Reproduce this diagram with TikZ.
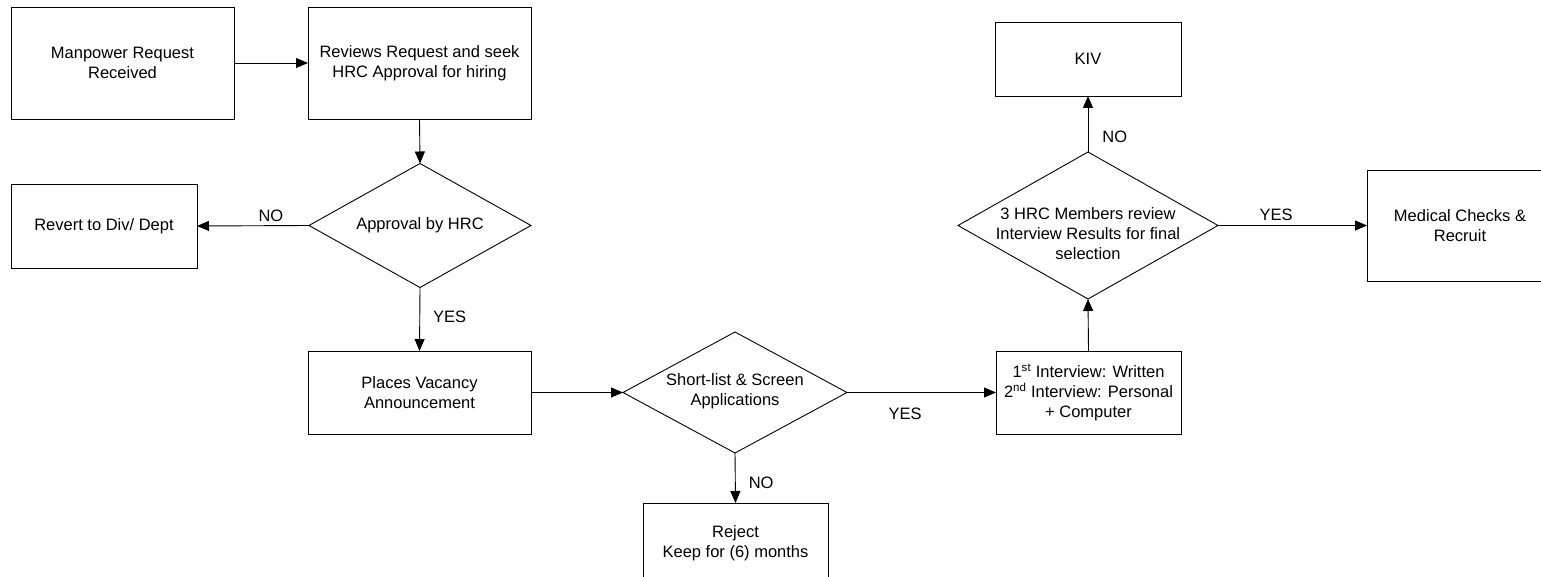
\documentclass[tikz,border=0pt]{standalone}
\usepackage{fontspec}
\setmainfont{Liberation Sans}
\usetikzlibrary{shapes.geometric,arrows.meta}
\begin{document}
\begin{tikzpicture}[x=1pt,y=-1pt,
  font=\fontsize{16.5}{20}\selectfont,
  box/.style={draw, line width=0.9pt, rectangle, align=center, inner sep=0pt, outer sep=0pt},
  dia/.style={draw, line width=0.9pt, diamond, inner sep=0pt, outer sep=0pt},
  arr/.style={line width=0.9pt, -{Triangle[length=12pt,width=10pt]}},
  lbl/.style={inner sep=0pt}]
\useasboundingbox (0,0) rectangle (1541,577);
\clip (0,0) rectangle (1541,577);

\node[box, minimum width=223pt, minimum height=112pt] (b1) at (122.5,63) {Manpower Request\\Received};
\node[box, minimum width=223pt, minimum height=112pt] (b2) at (419.5,63) {Reviews Request and seek\\HRC Approval for hiring};
\node[dia, minimum width=222pt, minimum height=124pt,
  label={[name=d1t, align=center]center:Approval by HRC}] (d1) at (420,225.5) {};
\node[box, minimum width=186pt, minimum height=84pt] (rev) at (104,226) {Revert to Div/ Dept};
\node[box, minimum width=223pt, minimum height=83pt] (pl) at (419.5,392.5) {Places Vacancy\\Announcement};
\node[dia, minimum width=224pt, minimum height=121pt,
  label={[name=d2t, align=center, yshift=1.5pt]center:Short-list \& Screen\\Applications}] (d2) at (735,392.5) {};
\node[box, minimum width=185pt, minimum height=80pt] (rej) at (735.5,543) {Reject\\Keep for (6) months};
\node[box, minimum width=185pt, minimum height=83pt] (iv) at (1088.5,392.5) {1\textsuperscript{st} Interview: Written\\2\textsuperscript{nd} Interview: Personal\\+ Computer};
\node[dia, minimum width=260pt, minimum height=147pt,
  label={[name=d3t, align=center, yshift=-8pt]center:3 HRC Members review\\Interview Results for final\\selection}] (d3) at (1088,225.5) {};
\node[box, minimum width=186pt, minimum height=74pt] (kiv) at (1088,59) {KIV};
\node[box, minimum width=186pt, minimum height=111pt] (med) at (1460,225.5) {Medical Checks \&\\Recruit};

\draw[arr] (b1.east) -- (b2.west);
\draw[arr] (b2.south) -- (d1.north);
\draw[arr] (d1.west) -- node[lbl, pos=0.34, above=4pt] {NO} (rev.east);
\draw[arr] (d1.south) -- node[lbl, pos=0.46, right=13pt] {YES} (pl.north);
\draw[arr] (pl.east) -- (d2.west);
\draw[arr] (d2.south) -- node[lbl, pos=0.6, right=13pt] {NO} (rej.north);
\draw[arr] (d2.east) -- node[lbl, pos=0.39, below=15pt] {YES} (iv.west);
\draw[arr] (iv.north) -- (d3.south);
\draw[arr] (d3.north) -- node[lbl, pos=0.27, right=14pt] {NO} (kiv.south);
\draw[arr] (d3.east) -- node[lbl, pos=0.39, above=4pt] {YES} (med.west);
\end{tikzpicture}
\end{document}
